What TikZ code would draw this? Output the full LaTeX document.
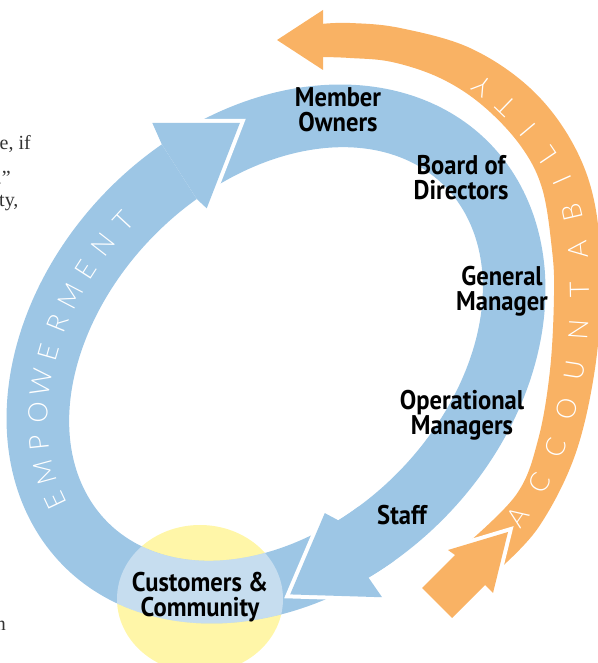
\documentclass[tikz,border=0pt]{standalone}
\usepackage{fontspec}
\newfontfamily\labelfont[FakeStretch=0.91]{PT Sans}
\newfontfamily\ringfont{Lato Light}
\newfontfamily\pagefont{Liberation Serif}
\definecolor{ringblue}{RGB}{157,198,229}
\definecolor{ringorange}{RGB}{249,178,100}
\definecolor{custyellow}{RGB}{255,246,168}
\definecolor{pagetext}{RGB}{51,51,51}
\tikzset{
  rolelabel/.style={font=\labelfont\bfseries\fontsize{27}{25}\selectfont, align=center, inner sep=0pt},
  ringletter/.style={font=\ringfont\fontsize{27}{27}\selectfont, text=white, inner sep=0pt},
  pagebit/.style={font=\pagefont\fontsize{20}{24}\selectfont, text=pagetext, inner sep=0pt},
  headedge/.style={draw=white, line width=8pt, line join=miter},
}
\begin{document}
\begin{tikzpicture}[x=1pt,y=1pt]
  \useasboundingbox (0,0) rectangle (597,663);
  \fill[custyellow] (200,64) ellipse[x radius=83pt, y radius=74pt]; % customers

  \begin{scope}[shift={(276,309)}, rotate=45]
    % empowerment band, tail runs under the other head
    \fill[ringblue] (258:300pt and 235pt) arc[start angle=258, end angle=77, x radius=300pt, y radius=235pt]
      -- (77:238pt and 170pt) arc[start angle=77, end angle=258, x radius=238pt, y radius=170pt] -- cycle;
    % members down to staff
    \coordinate (mTip) at (-160,-180);
    \coordinate (mBarbIn) at (-78,-147);
    \coordinate (mBarbOut) at (-97,-247);
    \fill[ringblue] (73:300pt and 235pt) arc[start angle=73, end angle=-108, x radius=300pt, y radius=235pt]
      -- (-108:238pt and 170pt) arc[start angle=-108, end angle=73, x radius=238pt, y radius=170pt] -- cycle;
    \draw[headedge] (mBarbIn) -- (mTip) -- (mBarbOut);
    \fill[ringblue] (-108:300pt and 235pt) -- (mBarbOut) -- (mTip) -- (mBarbIn) -- (-108:238pt and 170pt) -- cycle;
    % empowerment head on top
    \coordinate (eTip) at (138,189);
    \coordinate (eBarbOut) at (76,251);
    \coordinate (eBarbIn) at (54,152);
    \draw[headedge] (eBarbOut) -- (eTip) -- (eBarbIn);
    \fill[ringblue] (77:300pt and 235pt) -- (eBarbOut) -- (eTip) -- (eBarbIn) -- (77:238pt and 170pt) -- cycle;

    \foreach \t [count=\i] in {165,156.8,148.8,141.1,133.7,126.5,119.6,112.8,106.1,99.6,93} {
      \pgfmathsetmacro\ch{{"E","M","P","O","W","E","R","M","E","N","T"}[\i-1]}
      \node[ringletter, rotate={atan2(-202*cos(\t),269*sin(\t))+45}] (emp\i) at (\t:269pt and 202pt) {\ch};
    }
  \end{scope}

  % lighter band where it crosses the customers
  \begin{scope}
    \clip (200,64) ellipse[x radius=83pt, y radius=74pt];
    \fill[white, opacity=.42, even odd rule, shift={(276,309)}, rotate=45]
      (0,0) ellipse[x radius=300pt, y radius=235pt] (0,0) ellipse[x radius=238pt, y radius=170pt];
  \end{scope}

  % accountability band, narrower towards its head
  \fill[ringorange] plot[smooth, tension=0.6] coordinates {
      (497,92) (538,135) (574,205) (594,288) (601,373) (595,458) (572,521)
      (530,575) (470,615) (400,635) (350,640) (321,639)}
    -- plot[smooth, tension=0.6] coordinates {
      (321,606) (350,605) (392,601) (440,585) (482,558) (520,518) (542,475)
      (552,413) (554,368) (550,293) (538,223) (516,168) (462,115)} -- cycle;
  \coordinate (aTip) at (277,623);
  \coordinate (aBarbTop) at (323,653);
  \coordinate (aBarbLow) at (323,593);
  \fill[ringorange] (aBarbTop) -- (aTip) -- (aBarbLow) -- cycle;

  % short arrow feeding the accountability band
  \coordinate (sTailA) at (422,75);
  \coordinate (sTailB) at (452,45);
  \coordinate (sNotchB) at (485,78);
  \coordinate (sBarbB) at (493,70);
  \coordinate (sTip) at (508,131);
  \coordinate (sBarbA) at (448,113);
  \coordinate (sNotchA) at (455,108);
  \draw[headedge] (sBarbA) -- (sTip) -- (sBarbB);
  \fill[ringorange] (sTailA) -- (sTailB) -- (sNotchB) -- (sBarbB) -- (sTip) -- (sBarbA) -- (sNotchA) -- cycle;

  \foreach \x/\y/\a/\ch [count=\i] in {518/146/55/A, 540/180/61/C, 556/215/70/C, 567/254/76/O,
      575/293/81/U, 579/333/86/N, 580/373/91/T, 578/413/96/A, 572/451/103/B, 562/483/114/I,
      547/508/124/L, 528/533/130/I, 506/557/136/T, 482/577/143/Y} {
    \node[ringletter, rotate=\a] (acc\i) at (\x,\y) {\ch};
  }

  \node[rolelabel] (member) at (338,553) {Member\\Owners};
  \node[rolelabel] (board) at (461,485) {Board of\\Directors};
  \node[rolelabel] (manager) at (502,372) {General\\Manager};
  \node[rolelabel] (operations) at (462,248) {Operational\\Managers};
  \node[rolelabel] (staff) at (402,148) {Staff};
  \node[rolelabel] (customers) at (200,66) {Customers \&\\Community};

  % bits of the page text beside the figure
  \node[pagebit, anchor=base east] (frag1) at (31,513) {ce, if};
  \node[pagebit, anchor=base east] (frag2) at (11,478) {k.”};
  \node[pagebit, anchor=base west] (frag3) at (-1,456) {ty,};
  \node[pagebit, anchor=base east] (frag4) at (6,32) {n};
\end{tikzpicture}
\end{document}
